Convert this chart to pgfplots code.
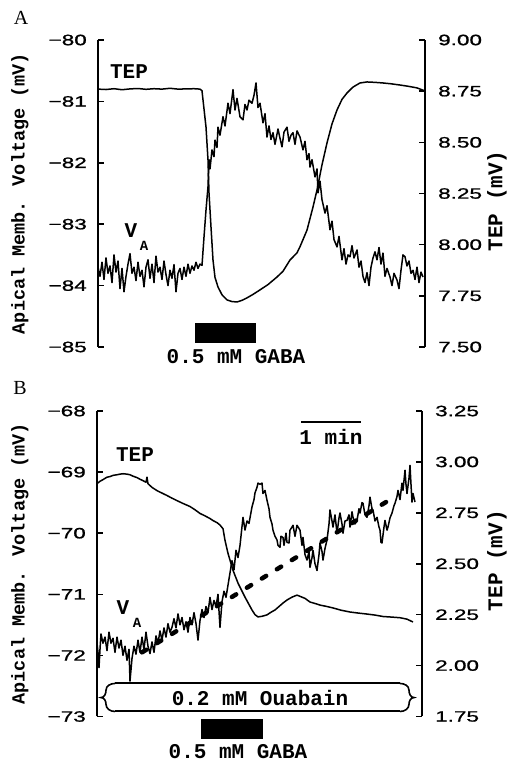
\documentclass[border=0pt]{standalone}
\usepackage{fontspec}
\usepackage{pgfplots}
\pgfplotsset{compat=1.18}
\setmainfont{Liberation Mono}
\newfontfamily\tw{Liberation Mono}
\newfontfamily\tickfam{Liberation Sans}[FakeStretch=1.5, FakeBold=1.2]
\newfontfamily\letterfam{Liberation Serif}
\newcommand\ann{\tw\bfseries\fontsize{21}{21}\selectfont}
\newcommand\annsub{\tw\bfseries\fontsize{14}{14}\selectfont}
\newcommand\ylab{\tw\bfseries\fontsize{18.5}{18.5}\selectfont}
\newcommand\ylabr{\tw\bfseries\fontsize{21}{21}\selectfont}
\newcommand\tickf{\tickfam\fontsize{15}{15}\selectfont}
\newcommand\letf{\letterfam\fontsize{20}{20}\selectfont}

\pgfplotsset{
  base/.style={
    anchor=south west, scale only axis, clip=false,
    axis x line=none, xtick=\empty,
    tick align=inside, major tick length=6pt,
    axis line style={line width=1.8pt},
    every tick/.style={line width=1.6pt, black},
  },
  trace/.style={black, mark=none, line width=1.5pt, line join=round},
  leftax/.style={base, axis y line*=left,
    yticklabel style={font=\tickf, anchor=east, inner sep=0pt, xshift=-11pt}},
  rightax/.style={base, axis y line*=right,
    yticklabel style={font=\tickf, anchor=west, inner sep=0pt, xshift=13pt}},
}

\begin{document}
\begin{tikzpicture}[x=1pt,y=1pt]
%%%%%%%%%%%%%%%% Panel A
\begin{axis}[leftax, at={(98pt,417pt)}, width=327pt, height=307pt,
  xmin=0, xmax=327, ymin=-85, ymax=-80,
  ytick={-85,-84,-83,-82,-81,-80},
  yticklabels={−85,−84,−83,−82,−81,−80}]
\addplot[trace] coordinates {(0,-83.70)(2,-83.85)(4,-83.62)(6,-83.90)(8,-83.55)(10,-83.80)(12,-83.68)(14,-83.95)(16,-83.50)(18,-83.78)(20,-83.60)(22,-84.05)(24,-83.72)(26,-84.10)(28,-83.85)(30,-83.65)(32,-83.48)(34,-83.80)(36,-83.70)(38,-83.92)(40,-83.62)(42,-83.85)(44,-83.75)(46,-84.02)(48,-83.70)(50,-83.58)(52,-83.88)(54,-83.65)(56,-83.95)(58,-83.52)(60,-83.78)(62,-83.70)(64,-83.90)(66,-83.60)(68,-83.82)(70,-84.00)(72,-83.75)(74,-83.88)(76,-83.66)(78,-84.10)(80,-83.80)(82,-83.72)(84,-83.90)(86,-83.70)(88,-83.85)(90,-83.65)(92,-83.80)(94,-83.68)(96,-83.75)(98,-83.62)(100,-83.72)(102,-83.65)(104,-83.67)
(106,-83.21)(108,-82.77)(110,-82.39)(111,-81.95)(112,-82.10)(114,-81.79)(116,-81.90)(117,-81.63)(119,-81.75)(120,-81.42)(122,-81.55)(125,-81.25)(127,-81.40)(130,-81.03)(132,-81.20)(135,-80.81)(137,-81.14)(139,-80.95)(142,-81.25)(145,-81.30)(147,-81.05)(149,-81.14)(151,-80.98)(154,-81.03)(156,-80.90)(158,-80.70)(160,-81.10)(162,-81.03)(165,-81.35)(167,-81.20)(169,-81.58)(171,-81.40)(173,-81.62)(175,-81.51)(177,-81.70)(180,-81.45)(182,-81.60)(184,-81.74)(186,-81.50)(189,-81.42)(191,-81.65)(193,-81.55)(195,-81.51)(197,-81.70)(199,-81.48)(202,-81.58)(205,-81.79)(207,-81.65)(209,-81.95)(211,-81.85)(212,-82.07)(214,-81.95)(217,-82.23)(219,-82.10)(220,-82.49)(222,-82.30)(224,-82.60)(227,-82.82)(229,-82.70)(232,-83.09)(234,-82.95)(236,-83.25)(239,-83.37)(241,-83.20)(244,-83.58)(246,-83.40)(248,-83.65)(250,-83.50)(252,-83.53)(254,-83.35)(256,-83.55)(259,-83.42)(261,-83.70)(263,-83.60)(265,-83.85)(267,-83.95)(269,-83.79)(271,-84.00)(273,-83.70)(275,-83.55)(277,-83.45)(279,-83.58)(281,-83.38)(283,-83.65)(285,-83.47)(287,-83.85)(289,-83.72)(292,-83.86)(294,-84.00)(296,-83.80)(299,-83.91)(301,-84.05)(303,-83.75)(305,-83.50)(307,-83.53)(309,-83.68)(311,-83.60)(313,-83.80)(315,-83.75)(317,-83.90)(319,-83.70)(321,-83.95)(323,-83.78)(325,-83.86)};
% annotations A
\fill (axis cs:97,-84.609) rectangle (axis cs:158,-84.935);
\node[font=\ann] at (axis cs:138,-85.163) {0.5 mM GABA};
\node[font=\ann] at (axis cs:31,-80.52) {TEP};
\node[font=\ann] at (axis cs:33,-83.11) {V};
\node[font=\annsub] at (axis cs:46,-83.36) {A};
\node[font=\letf] at (axis cs:-77,-79.64) {A};
\node[font=\ylab, rotate=90] at (axis cs:-78,-82.5) {Apical Memb. Voltage (mV)};
\node[font=\ylabr, rotate=90] at (axis cs:399,-82.62) {TEP (mV)};
\end{axis}
\begin{axis}[rightax, at={(98pt,417pt)}, width=327pt, height=307pt,
  xmin=0, xmax=327, ymin=7.5, ymax=9.0,
  ytick={7.5,7.75,8,8.25,8.5,8.75,9},
  yticklabels={7.50,7.75,8.00,8.25,8.50,8.75,9.00}]
\addplot[trace] coordinates {(0,8.760)(8,8.758)(16,8.762)(24,8.757)(32,8.761)(40,8.763)(48,8.759)(56,8.762)(64,8.760)(72,8.764)(80,8.760)(88,8.761)(96,8.762)(102,8.760)(104,8.752)(105,8.707)(108,8.575)(110,8.414)(111,8.253)(113,8.086)(115,7.925)(117,7.840)(120,7.793)(124,7.755)(129,7.730)(134,7.722)(139,7.720)(144,7.728)(149,7.740)(155,7.757)(162,7.779)(170,7.805)(179,7.842)(185,7.870)(192,7.925)(199,7.960)(202,7.990)(209,8.071)(215,8.184)(219,8.267)(224,8.390)(229,8.497)(234,8.590)(239,8.658)(244,8.710)(249,8.741)(255,8.770)(262,8.790)(269,8.795)(277,8.793)(285,8.790)(293,8.786)(302,8.780)(310,8.774)(319,8.766)(327,8.751)};
\end{axis}
%%%%%%%%%%%%%%%% Panel B
\begin{axis}[leftax, at={(97pt,47.5pt)}, width=325pt, height=305.5pt,
  xmin=0, xmax=325, ymin=-73, ymax=-68,
  ytick={-73,-72,-71,-70,-69,-68},
  yticklabels={−73,−72,−71,−70,−69,−68}]
\addplot[trace] coordinates {(0,-71.80)(1,-71.95)(2,-72.20)(3,-71.90)(4,-71.65)(6,-71.80)(8,-71.70)(10,-71.92)(12,-71.62)(14,-71.80)(16,-71.72)(18,-71.95)(20,-71.70)(22,-71.88)(24,-71.75)(26,-72.00)(28,-71.85)(30,-72.08)(32,-71.90)(33,-72.42)(35,-72.05)(37,-71.85)(39,-71.98)(41,-71.75)(43,-71.95)(45,-71.70)(47,-71.90)(49,-71.62)(51,-71.85)(53,-71.97)(55,-71.78)(57,-71.95)(59,-71.68)(61,-71.80)(63,-71.60)(65,-71.75)(67,-71.55)(69,-71.70)(71,-71.48)(73,-71.62)(75,-71.54)(77,-71.40)(79,-71.55)(81,-71.32)(83,-71.50)(85,-71.38)(87,-71.58)(89,-71.45)(91,-71.62)(93,-71.38)(95,-71.50)(97,-71.30)(99,-71.48)(101,-71.75)(103,-71.43)(105,-71.25)(107,-71.38)(109,-71.20)(111,-71.30)(113,-71.05)(115,-71.25)(117,-71.10)(119,-71.20)(121,-71.00)(123,-71.54)(125,-71.12)(127,-70.95)(129,-71.05)(131,-70.85)(133,-70.65)(135,-70.45)(137,-70.60)(139,-70.28)(141,-70.40)(143,-70.20)(146,-69.74)(148,-69.95)(150,-69.80)(152,-69.84)(155,-69.57)(157,-69.45)(158,-69.34)(160,-69.25)(161,-69.18)(163,-69.20)(165,-69.18)(166,-69.35)(168,-69.30)(170,-69.46)(172,-69.60)(173,-69.74)(175,-69.85)(176,-69.95)(178,-70.05)(180,-70.11)(181,-70.20)(183,-70.23)(184,-70.05)(186,-70.07)(187,-70.20)(189,-70.00)(190,-70.15)(192,-70.16)(193,-69.95)(195,-69.90)(196,-69.87)(198,-70.05)(200,-69.87)(203,-69.95)(205,-70.20)(206,-70.07)(208,-70.35)(210,-70.44)(212,-70.30)(213,-70.56)(215,-70.40)(216,-70.28)(218,-70.50)(220,-70.61)(222,-70.35)(223,-70.16)(225,-70.30)(226,-70.44)(228,-70.25)(230,-70.11)(232,-69.85)(233,-69.62)(235,-69.80)(236,-69.90)(238,-69.70)(240,-70.00)(242,-69.75)(243,-69.67)(245,-69.85)(246,-70.00)(248,-69.80)(250,-69.79)(252,-69.70)(253,-69.90)(255,-69.65)(256,-69.74)(258,-69.85)(260,-69.79)(262,-69.60)(263,-69.67)(265,-69.50)(266,-69.51)(268,-69.70)(270,-69.74)(272,-69.55)(273,-69.41)(275,-69.60)(276,-69.62)(278,-69.80)(280,-69.74)(282,-69.90)(283,-69.95)(284,-70.15)(285,-70.16)(287,-69.90)(288,-69.79)(290,-69.95)(291,-69.90)(293,-69.75)(295,-69.67)(297,-69.55)(298,-69.51)(300,-69.40)(301,-69.30)(303,-69.45)(305,-69.18)(306,-69.30)(308,-68.97)(309,-69.20)(310,-69.35)(312,-69.10)(313,-68.89)(314,-69.20)(315,-69.49)(316,-69.35)(318,-69.49)};
% dashed trend line
\addplot[black, mark=none, line width=4.5pt, line cap=round, dash pattern=on 5pt off 12.6pt] coordinates {(45,-71.95)(295,-69.43)};
% annotations B
\draw[line width=1.8pt] (axis cs:204,-68.18) -- (axis cs:264,-68.18);
\node[font=\ann] at (axis cs:234,-68.43) {1 min};
\draw[line width=2pt] (axis cs:18,-72.459) -- (axis cs:303,-72.459);
\draw[line width=2pt] (axis cs:18,-72.918) -- (axis cs:303,-72.918);
\draw[line width=1.6pt] (axis cs:18,-72.459) to[out=180,in=90] (axis cs:9,-72.57) to[out=-90,in=0] (axis cs:4,-72.69) to[out=0,in=90] (axis cs:9,-72.80) to[out=-90,in=180] (axis cs:18,-72.918);
\draw[line width=1.6pt] (axis cs:303,-72.459) to[out=0,in=90] (axis cs:312,-72.57) to[out=-90,in=180] (axis cs:317,-72.69) to[out=180,in=90] (axis cs:312,-72.80) to[out=-90,in=0] (axis cs:303,-72.918);
\node[font=\ann] at (axis cs:163,-72.70) {0.2 mM Ouabain};
\fill (axis cs:104,-73.049) rectangle (axis cs:166,-73.361);
\node[font=\ann] at (axis cs:141,-73.57) {0.5 mM GABA};
\node[font=\ann] at (axis cs:38,-68.72) {TEP};
\node[font=\ann] at (axis cs:26,-71.21) {V};
\node[font=\annsub] at (axis cs:40,-71.46) {A};
\node[font=\letf] at (axis cs:-77,-67.62) {B};
\node[font=\ylab, rotate=90] at (axis cs:-77,-70.5) {Apical Memb. Voltage (mV)};
\node[font=\ylabr, rotate=90] at (axis cs:400,-70.45) {TEP (mV)};
\end{axis}
\begin{axis}[rightax, at={(97pt,47.5pt)}, width=325pt, height=305.5pt,
  xmin=0, xmax=325, ymin=1.75, ymax=3.25,
  ytick={1.75,2,2.25,2.5,2.75,3,3.25},
  yticklabels={1.75,2.00,2.25,2.50,2.75,3.00,3.25}]
\addplot[trace] coordinates {(0,2.893)(3,2.905)(6,2.913)(10,2.925)(13,2.928)(16,2.934)(20,2.937)(23,2.940)(26,2.942)(30,2.940)(33,2.937)(36,2.930)(40,2.923)(43,2.915)(46,2.908)(49,2.900)(50,2.925)(51,2.893)(55,2.875)(60,2.859)(65,2.847)(70,2.835)(75,2.822)(80,2.810)(86,2.796)(93,2.781)(98,2.765)(103,2.747)(108,2.735)(113,2.722)(116,2.712)(120,2.702)(123,2.690)(126,2.672)(128,2.615)(131,2.551)(136,2.468)(141,2.405)(148,2.336)(155,2.273)(158,2.250)(161,2.239)(165,2.242)(170,2.249)(174,2.262)(178,2.273)(182,2.290)(186,2.307)(190,2.322)(195,2.336)(200,2.346)(203,2.340)(208,2.330)(213,2.312)(218,2.305)(223,2.297)(230,2.290)(236,2.283)(244,2.272)(253,2.263)(261,2.258)(270,2.253)(278,2.248)(286,2.241)(295,2.238)(303,2.235)(310,2.228)(316,2.214)};
\end{axis}
\pgfresetboundingbox
\path (0,0) rectangle (509,764);
\end{tikzpicture}
\end{document}
